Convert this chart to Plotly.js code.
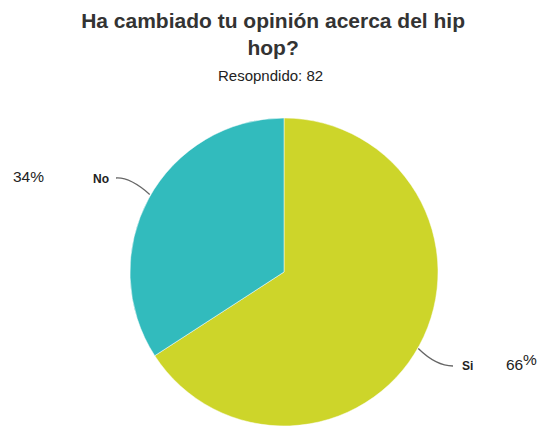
<!DOCTYPE html>
<html><head><meta charset="utf-8">
<script src="https://cdn.plot.ly/plotly-3.0.1.min.js"></script>
<style>html,body{margin:0;padding:0;background:#fff}#chart{width:544px;height:427px}</style>
</head><body><div id="chart"></div>
<script>
const categories = ['Si', 'No'];
const values = [54, 28];
const colors = ['#CDD52A', '#32BBBD'];
const titleText = 'Ha cambiado tu opinión acerca del hip<br>hop?';
const subtitleText = 'Resopndido: 82';

const W = 544, H = 427;
const M = {l: 0, r: 0, t: 118, b: 1};
const cx = 284, R = 154;
const pw = W - M.l - M.r, ph = H - M.t - M.b;
const cy = M.t + ph / 2;
const px = x => (x - M.l) / pw;
const py = y => 1 - (y - M.t) / ph;

const total = values.reduce((a, b) => a + b, 0);
const pcts = values.map(v => Math.round(v / total * 100));
// mid angles (clockwise from 12 o'clock)
let acc = 0;
const mids = values.map(v => { const a0 = acc; acc += v / total * 360; return (a0 + acc) / 2; });
const edge = mids.map(a => { const t = a * Math.PI / 180; return [cx + R * Math.sin(t), cy - R * Math.cos(t)]; });

const font = 'Liberation Sans, Arial, sans-serif';
function ann(text, x, y, xanchor, size) {
  return {text: text, x: px(x), y: py(y), xref: 'paper', yref: 'paper', xanchor: xanchor, yanchor: 'middle',
    showarrow: false, font: {family: font, size: size, color: '#222'}};
}
const annotations = [
  ann(subtitleText, 270, 75, 'center', 15),
  ann('<b>' + categories[1] + '</b>', 111, 179, 'right', 12),
  ann(pcts[1] + '%', 28.5, 176.5, 'center', 15.5),
  ann('<b>' + categories[0] + '</b>', 460, 365.5, 'left', 12),
  ann(String(pcts[0]), 504, 364, 'left', 15.5),
  ann('%', 521, 359.5, 'left', 15.5)
];

function pathFor(p1, c, p2) {
  return 'M ' + px(p1[0]) + ' ' + py(p1[1]) + ' Q ' + px(c[0]) + ' ' + py(c[1]) + ' ' + px(p2[0]) + ' ' + py(p2[1]);
}
const shapes = [
  {type: 'path', xref: 'paper', yref: 'paper', path: pathFor([116, 178], [130, 177], [edge[1][0] + 1, edge[1][1] - 4]),
   line: {color: '#666', width: 1.3}},
  {type: 'path', xref: 'paper', yref: 'paper', path: pathFor([edge[0][0] - 1, edge[0][1] + 3], [436, 366], [453, 366]),
   line: {color: '#666', width: 1.3}}
];

const data = [{
  type: 'pie', labels: categories, values: values, sort: false, direction: 'clockwise', rotation: 0,
  marker: {colors: colors, line: {color: '#fff', width: 0.5}},
  textinfo: 'none', hoverinfo: 'label+percent',
  domain: {x: [px(cx - R), px(cx + R)], y: [0, 1]}
}];
const layout = {
  width: W, height: H, margin: M, showlegend: false,
  paper_bgcolor: '#fff', plot_bgcolor: '#fff',
  title: {text: '<b>' + titleText + '</b>', font: {family: font, size: 21, color: '#333'},
    x: 0.502, xanchor: 'center', xref: 'paper', y: 1 - 28 / H, yref: 'container', yanchor: 'middle'},
  annotations: annotations, shapes: shapes
};
Plotly.newPlot('chart', data, layout, {displayModeBar: false, staticPlot: true});
</script></body></html>
